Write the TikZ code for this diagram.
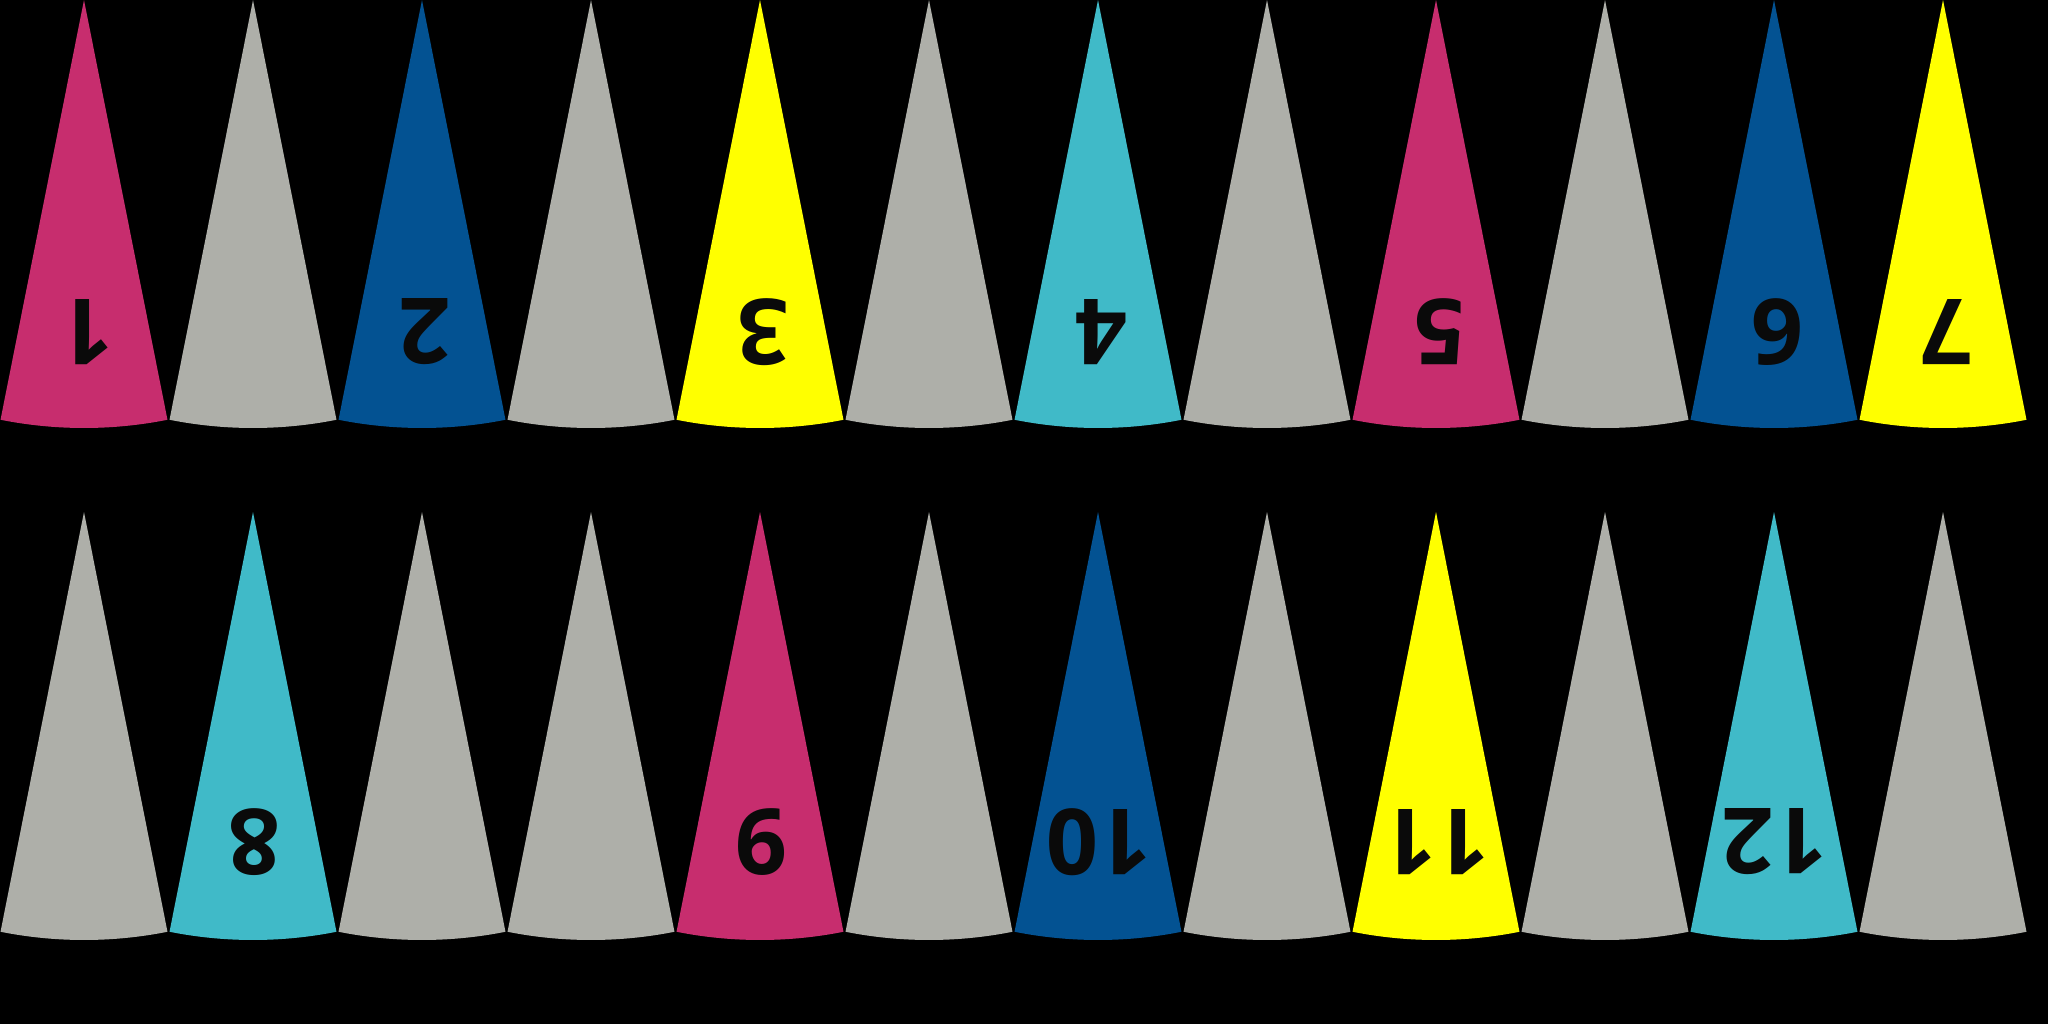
\documentclass[tikz,border=0pt]{standalone}
\usepackage{fontspec}
\setmainfont{Open Sans}
\usepackage{xcolor}
\usepackage{tikz}
\usetikzlibrary{calc}

\definecolor{conemagenta}{RGB}{199,45,110}
\definecolor{coneblue}{RGB}{3,82,146}
\definecolor{coneyellow}{RGB}{255,255,0}
\definecolor{conecyan}{RGB}{64,186,200}
\definecolor{conegray}{RGB}{174,175,169}
\definecolor{numblack}{RGB}{10,10,10}

\begin{document}
\begin{tikzpicture}[
				cone/.style={draw=none},
				numlabel/.style={font=\fontsize{26}{26}\selectfont\bfseries, text=numblack,
					rotate=180, inner sep=0pt}
				]
				
				% Background and bounding box
				\useasboundingbox (0,0) rectangle (20.48,-10.24);
				\fill[black] (0,0) rectangle (20.48,-10.24);
				
				% Row 1: cones with apex at top edge
				\foreach \i/\col/\num in {0/conemagenta/1, 1/conegray/, 2/coneblue/2, 3/conegray/,
					4/coneyellow/3, 5/conegray/, 6/conecyan/4, 7/conegray/, 8/conemagenta/5,
					9/conegray/, 10/coneblue/6, 11/coneyellow/7} {
					\coordinate (top\i) at (0.84+1.69*\i,0);
					\fill[cone, \col] (top\i) -- ++(-101.25:4.28) arc (-101.25:-78.75:4.28) -- cycle;
					\node[numlabel] (num\i) at ($(top\i)+(0.03,-3.32)$) {\num};
				}
				
				% Row 2
				\foreach \i/\col/\num in {0/conegray/, 1/conecyan/8, 2/conegray/, 3/conegray/,
					4/conemagenta/9, 5/conegray/, 6/coneblue/10, 7/conegray/, 8/coneyellow/11,
					9/conegray/, 10/conecyan/12, 11/conegray/} {
					\coordinate (bot\i) at (0.84+1.69*\i,-5.12);
					\fill[cone, \col] (bot\i) -- ++(-101.25:4.28) arc (-101.25:-78.75:4.28) -- cycle;
					\node[numlabel] (numb\i) at ($(bot\i)+(0.01,-3.30)$) {\num};
				}
				
			\end{tikzpicture}
\end{document}
